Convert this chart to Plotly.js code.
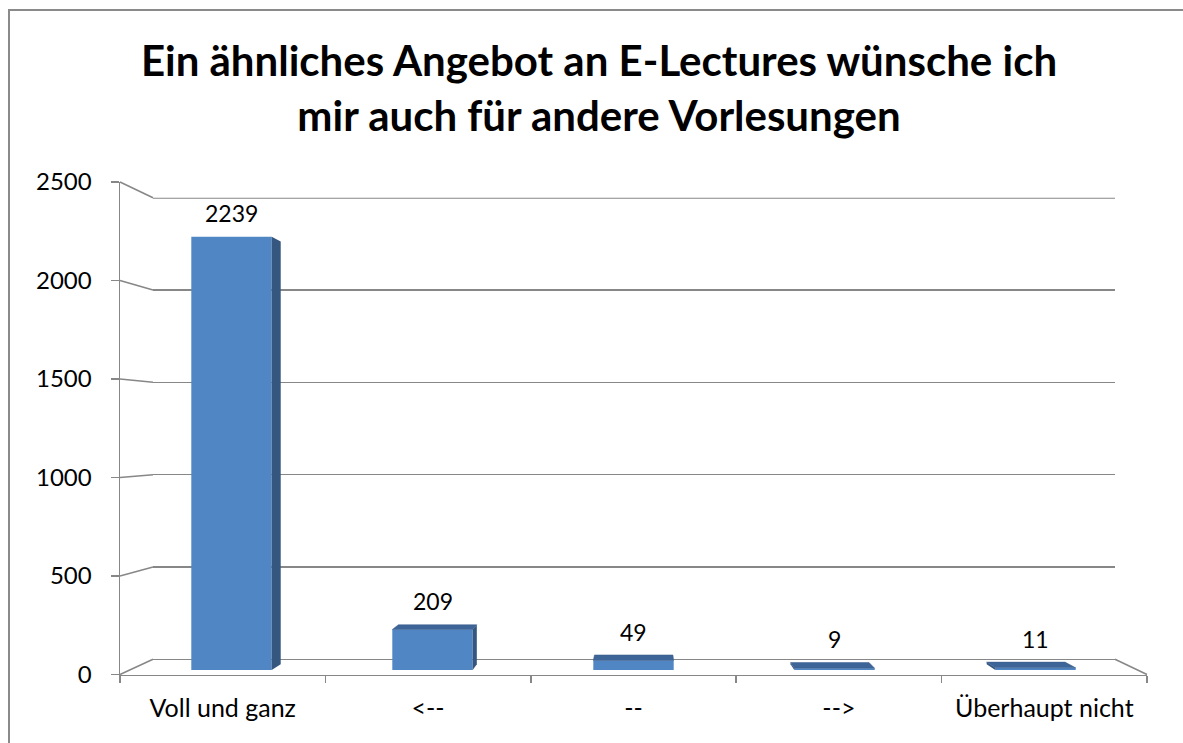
<!DOCTYPE html>
<html>
<head>
<meta charset="utf-8">
<script src="https://cdn.plot.ly/plotly-3.0.1.min.js"></script>
<style>html,body{margin:0;padding:0;background:#fff;}#chart{width:1183px;height:743px;}</style>
</head>
<body>
<div id="chart"></div>
<script>
// ---- data ----
const categories = ['Voll und ganz', '<--', '--', '-->', 'Überhaupt nicht'];
const values = [2239, 209, 49, 9, 11];
const yTicks = [0, 500, 1000, 1500, 2000, 2500];
const titleText = 'Ein ähnliches Angebot an E-Lectures wünsche ich<br>mir auch für andere Vorlesungen';

// ---- layout geometry (pixels) ----
const W = 1183, H = 743;
const px = x => x / W;
const py = y => 1 - y / H;
const FRONT = {x0: 120, x1: 1147, y0: 674.5, y1: 182};   // front axis plane
const BACK  = {x0: 153, x1: 1115, y0: 659.3, y1: 197.7}; // back wall
const BARS  = {x0: 131, x1: 1136, y0: 670, y1: 186.2};   // bar front-face plane
const YMAX = 2500;
const DEPTH = 0.9756; // back face scale relative to front face, around vanishing point
const VP = {x: 641, y: 432};

const esc = s => s.replace(/&/g, '&amp;').replace(/</g, '&lt;').replace(/>/g, '&gt;');
const gray = '#878787';
const font = 'Lato, "Open Sans", sans-serif';

// vanishing point in bar-plane data coordinates
const nCat = categories.length;
const vpX = (VP.x - BARS.x0) / (BARS.x1 - BARS.x0) * nCat - 0.5;
const vpY = (BARS.y0 - VP.y) / (BARS.y0 - BARS.y1) * YMAX;
const back = (x, y) => [vpX + (x - vpX) * DEPTH, vpY + (y - vpY) * DEPTH];

const barW = 0.4;
const shapes = [];
const annotations = [];
const pathOf = pts => 'M' + pts.map(p => p[0] + ',' + p[1]).join('L') + 'Z';

values.forEach((v, i) => {
  const xl = i - barW / 2, xr = i + barW / 2;
  const topVisible = v < vpY;
  // side faces
  if (xr < vpX) {
    shapes.push({type: 'path', xref: 'x3', yref: 'y3', layer: 'above',
      path: pathOf([[xr, 0], [xr, v], back(xr, v), back(xr, 0)]), fillcolor: '#34567F', line: {width: 0}});
  }
  if (xl > vpX) {
    shapes.push({type: 'path', xref: 'x3', yref: 'y3', layer: 'above',
      path: pathOf([[xl, 0], [xl, v], back(xl, v), back(xl, 0)]), fillcolor: '#34567F', line: {width: 0}});
  }
  // top face
  if (topVisible) {
    shapes.push({type: 'path', xref: 'x3', yref: 'y3', layer: 'above',
      path: pathOf([[xl, v], [xr, v], back(xr, v), back(xl, v)]),
      fillcolor: '#3E6597', line: {color: '#3A5F8E', width: 0.5}});
  }
  annotations.push({x: i, y: v, xref: 'x3', yref: 'y3', text: String(v), showarrow: false,
    yanchor: 'bottom', yshift: topVisible ? 13 : 8, font: {family: font, size: 23, color: '#000'}});
});

// axis frame decorations: diagonals from front axis ticks to back wall gridlines
const yFront = v => FRONT.y0 + (FRONT.y1 - FRONT.y0) * v / YMAX;
const yBack = v => BACK.y0 + (BACK.y1 - BACK.y0) * v / YMAX;
yTicks.forEach(v => {
  shapes.push({type: 'line', xref: 'paper', yref: 'paper', layer: 'below',
    x0: px(FRONT.x0), y0: py(yFront(v)), x1: px(BACK.x0), y1: py(yBack(v)),
    line: {color: gray, width: 1.5}});
});
// top gridline of back wall (range end)
shapes.push({type: 'line', xref: 'paper', yref: 'y2', layer: 'below',
  x0: px(BACK.x0), x1: px(BACK.x1), y0: YMAX, y1: YMAX, line: {color: gray, width: 2}});
shapes.push({type: 'line', xref: 'paper', yref: 'paper', layer: 'below',
  x0: px(BACK.x1), y0: py(yBack(0)), x1: px(FRONT.x1), y1: py(yFront(0)),
  line: {color: gray, width: 1.5}});
// outer chart border (left and top edges)
shapes.push({type: 'path', xref: 'paper', yref: 'paper', layer: 'above',
  path: `M${px(9)},-0.1L${px(9)},${py(10)}L1.1,${py(10)}`,
  line: {color: '#8a8a8a', width: 2}});

const traces = [
  {type: 'scatter', x: categories.map(esc), y: values, xaxis: 'x', yaxis: 'y',
   mode: 'markers', marker: {opacity: 0}, hoverinfo: 'skip', showlegend: false},
  {type: 'scatter', x: [0], y: [0], xaxis: 'x2', yaxis: 'y2', mode: 'markers',
   marker: {opacity: 0}, hoverinfo: 'skip', showlegend: false},
  {type: 'bar', x: categories.map((c, i) => i), y: values, xaxis: 'x3', yaxis: 'y3',
   width: barW, marker: {color: '#5186C5', line: {width: 0}}, hoverinfo: 'y', showlegend: false}
];

const layout = {
  width: W, height: H,
  margin: {l: 0, r: 0, t: 0, b: 0},
  paper_bgcolor: '#fff', plot_bgcolor: 'rgba(0,0,0,0)',
  showlegend: false,
  title: {text: '<b>' + titleText + '</b>', x: px(599), xanchor: 'center', y: py(76), yanchor: 'top',
    font: {family: font, size: 42, color: '#000'}},
  xaxis: {domain: [px(FRONT.x0), px(FRONT.x1)], anchor: 'y', type: 'category',
    range: [-0.5, nCat - 0.5], showgrid: false, zeroline: false,
    showline: true, linecolor: gray, linewidth: 1.5,
    ticks: 'outside', tickson: 'boundaries', ticklen: 7, tickcolor: gray, tickwidth: 1.5,
    tickfont: {family: font, size: 25, color: '#000'}, ticklabelstandoff: 11, fixedrange: true},
  yaxis: {domain: [py(FRONT.y0), py(FRONT.y1)], anchor: 'x', range: [0, YMAX],
    tickvals: yTicks, ticktext: yTicks.map(String), showgrid: false, zeroline: false,
    showline: true, linecolor: gray, linewidth: 1.5,
    ticks: 'outside', ticklen: 8, tickcolor: gray, tickwidth: 1.5,
    tickfont: {family: font, size: 24, color: '#000'}, ticklabelstandoff: 14, fixedrange: true},
  xaxis2: {domain: [px(BACK.x0), px(BACK.x1)], anchor: 'y2', range: [0, 1], visible: false, fixedrange: true},
  yaxis2: {domain: [py(BACK.y0), py(BACK.y1)], anchor: 'x2', range: [0, YMAX],
    tickvals: yTicks, showticklabels: false, ticks: '', showgrid: true, gridcolor: gray, gridwidth: 1.5,
    zeroline: true, zerolinecolor: gray, zerolinewidth: 1.5, showline: false, fixedrange: true},
  xaxis3: {domain: [px(BARS.x0), px(BARS.x1)], anchor: 'y3', range: [-0.5, nCat - 0.5], visible: false, fixedrange: true},
  yaxis3: {domain: [py(BARS.y0), py(BARS.y1)], anchor: 'x3', range: [0, YMAX], visible: false, fixedrange: true},
  shapes: shapes,
  annotations: annotations
};

Plotly.newPlot('chart', traces, layout, {displayModeBar: false, staticPlot: true});
</script>
</body>
</html>
